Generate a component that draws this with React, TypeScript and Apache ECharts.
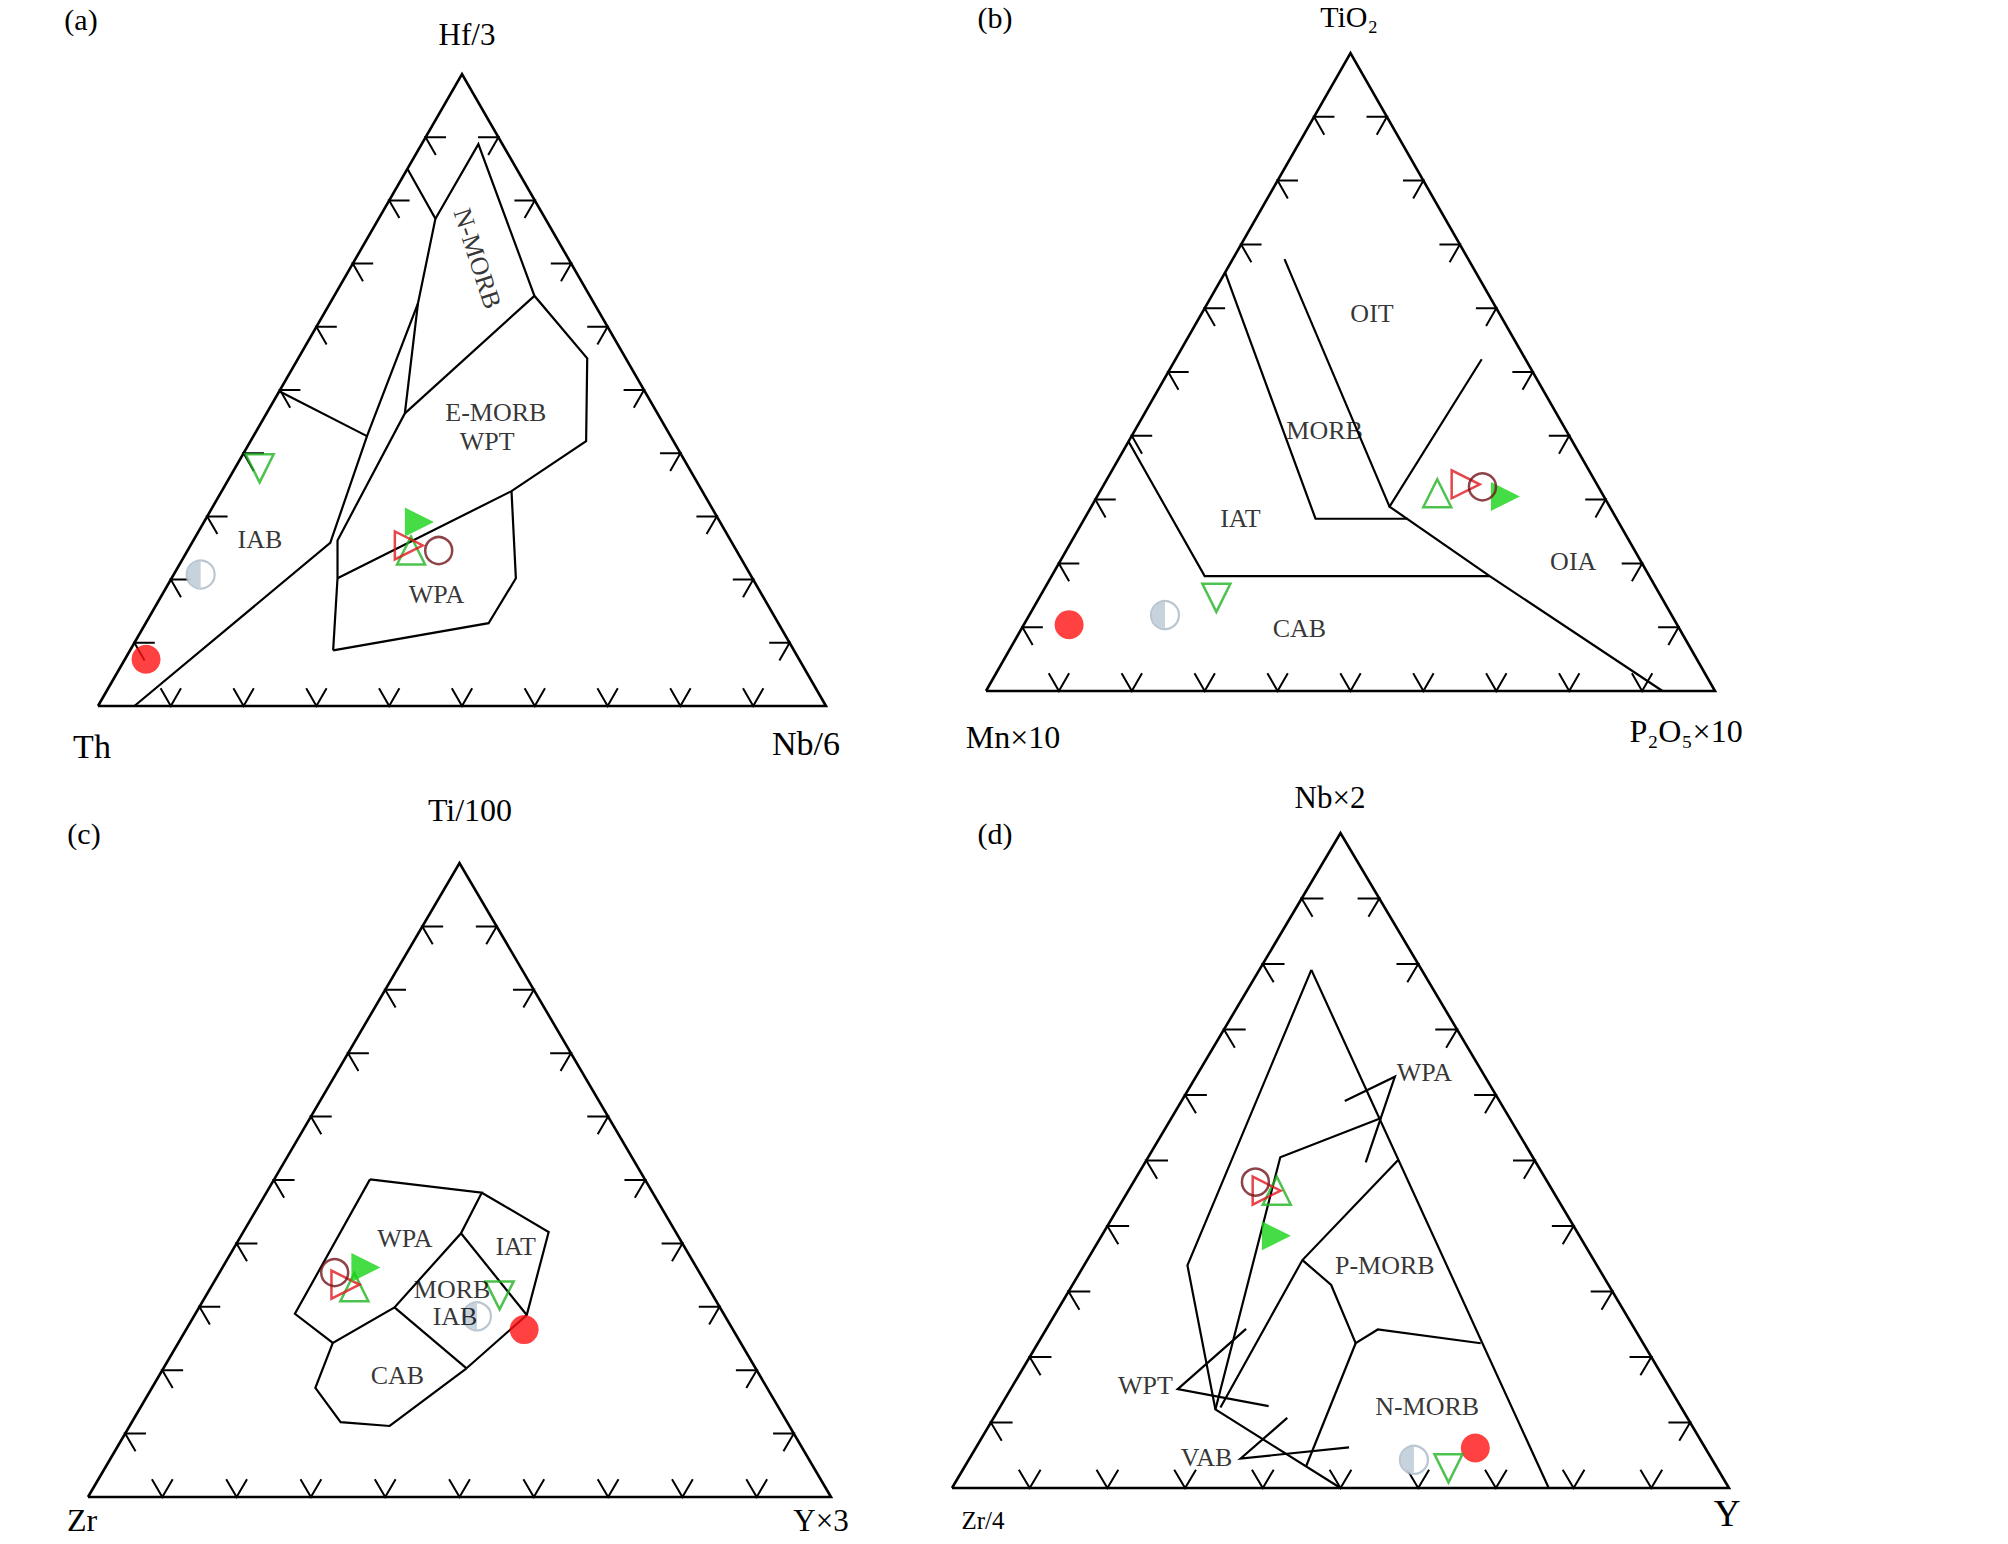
import React, { useEffect, useRef } from 'react';
import * as echarts from 'echarts';

const FONT = '"Liberation Serif", "Times New Roman", Times, serif';

// Tick fractions along every side of the ternary diagrams
const tickValues = [0.1, 0.2, 0.3, 0.4, 0.5, 0.6, 0.7, 0.8, 0.9];

// Compositions are [left apex, top apex, right apex] in %
const triangleCorners = [[100, 0, 0], [0, 0, 100], [0, 100, 0], [100, 0, 0]];

// ---------- (a) Th - Hf/3 - Nb/6 ----------
const aAxisNames = ['Th', 'Hf/3', 'Nb/6'];
const aBoundaries = [
  [[15.0, 85.0, 0], [15.1, 77.1, 7.8], [24.2, 63.7, 12.1], [41.7, 42.7, 15.6], [55.2, 25.8, 19.0], [95, 0, 5]],
  [[24.2, 63.7, 12.1], [34.7, 46.3, 19.0], [54.0, 26.2, 19.8], [57.0, 20.2, 22.8], [63.3, 8.8, 27.9]],
  [[50.2, 49.8, 0], [41.7, 42.7, 15.6]],
  [[15.1, 77.1, 7.8], [3.3, 88.9, 7.8], [7.6, 64.9, 27.5], [5.3, 55.0, 39.7], [11.9, 41.9, 46.1], [26.2, 34.0, 39.8], [57.0, 20.2, 22.8]],
  [[7.6, 64.9, 27.5], [34.7, 46.3, 19.0]],
  [[26.2, 34.0, 39.8], [32.5, 20.2, 47.3], [39.8, 13.1, 47.1], [63.3, 8.8, 27.9]],
];
const aFieldNames = ['N-MORB', 'E-MORB', 'WPT', 'IAB', 'WPA'];
const aFieldPositions = [[12.5, 70.8, 16.7], [22.2, 46.5, 31.4], [25.6, 41.9, 32.5], [64.6, 26.3, 9.1], [44.7, 17.6, 37.7]];
const aSamples: Record<string, number[]> = {
  halfCircle: [75.6, 20.8, 3.7],
  redCircle: [89.7, 7.4, 2.9],
  greenInvTri: [58.9, 37.6, 3.4],
  greenUpTri: [44.7, 24.6, 30.7],
  redRightTri: [44.6, 25.4, 30.0],
  greenFillTri: [41.3, 29.1, 29.6],
  maroonCircle: [40.8, 24.6, 34.5],
};

// ---------- (b) MnO×10 - TiO2 - P2O5×10 ----------
const bAxisNames = ['Mn×10', 'TiO₂', 'P₂O₅×10'];
const bBoundaries = [
  [[34.4, 65.6, 0], [41.3, 27.0, 31.7], [28.6, 27.0, 44.4]],
  [[25.2, 67.7, 7.1], [30.2, 28.9, 40.9]],
  [[15.9, 52.0, 42.0], [30.2, 28.9, 40.9], [22.0, 18.0, 60.1], [7.2, 0, 92.8]],
  [[60.9, 39.1, 0], [61.0, 18.0, 21.0], [22.0, 18.0, 60.1]],
];
const bFieldNames = ['OIT', 'MORB', 'IAT', 'OIA', 'CAB'];
const bFieldPositions = [[17.5, 59.1, 23.4], [33.2, 40.9, 26.0], [51.7, 27.0, 21.4], [9.3, 20.3, 70.4], [52.0, 9.8, 38.1]];
const bSamples: Record<string, number[]> = {
  halfCircle: [69.5, 11.9, 18.6],
  redCircle: [83.4, 10.4, 6.2],
  greenInvTri: [61.1, 14.6, 24.3],
  greenUpTri: [22.6, 31.0, 46.4],
  redRightTri: [18.0, 32.4, 49.6],
  greenFillTri: [13.8, 30.5, 56.0],
  maroonCircle: [15.9, 32.0, 52.1],
};

// ---------- (c) Zr - Ti/100 - Y×3 ----------
const cAxisNames = ['Zr', 'Ti/100', 'Y×3'];
const cBoundaries = [
  [[37.0, 50.1, 12.9], [23.1, 48.0, 29.0], [29.0, 41.6, 29.4], [43.8, 29.9, 26.3], [54.9, 24.3, 20.8], [57.7, 28.9, 13.4], [37.0, 50.1, 12.9]],
  [[23.1, 48.0, 29.0], [17.1, 41.8, 41.1], [26.6, 28.7, 44.7], [38.9, 20.3, 40.8]],
  [[29.0, 41.6, 29.4], [26.6, 28.7, 44.7]],
  [[43.8, 29.9, 26.3], [38.9, 20.3, 40.8]],
  [[54.9, 24.3, 20.8], [60.8, 17.2, 22.0], [60.1, 11.8, 28.1], [53.8, 11.2, 35.0], [38.9, 20.3, 40.8]],
];
const cFieldNames = ['WPA', 'IAT', 'MORB', 'IAB', 'CAB'];
const cFieldPositions = [[37.0, 40.7, 22.3], [22.7, 39.5, 37.8], [34.6, 32.8, 32.6], [36.4, 28.4, 35.2], [48.8, 19.1, 32.1]];
const cSamples: Record<string, number[]> = {
  halfCircle: [33.4, 28.5, 38.1],
  redCircle: [28.1, 26.4, 45.5],
  greenInvTri: [28.7, 31.8, 39.5],
  greenUpTri: [47.6, 33.1, 19.3],
  redRightTri: [48.6, 33.5, 17.9],
  greenFillTri: [44.5, 36.2, 19.3],
  maroonCircle: [49.0, 35.4, 15.5],
};

// ---------- (d) Zr/4 - Nb×2 - Y ----------
const dAxisNames = ['Zr/4', 'Nb×2', 'Y'];
const dBoundaries = [
  [[14.2, 79.1, 6.7], [23.2, 0, 76.8]],
  [[14.2, 79.1, 6.7], [52.7, 34.0, 13.3], [60.2, 12.0, 27.9], [50, 0, 50]],
  [[60.2, 12.0, 27.9], [32.6, 50.5, 17.0], [16.5, 56.5, 27.0]],
  [[19.9, 59.1, 21.0], [11.6, 62.8, 25.6], [21.9, 49.7, 28.4]],
  [[17.5, 50.1, 32.4], [37.5, 34.8, 27.7], [59.3, 12.3, 28.4]],
  [[37.5, 34.8, 27.7], [35.7, 31.0, 33.3], [37.1, 22.1, 40.9], [33.1, 24.2, 42.7], [20.9, 22.1, 57.0]],
  [[37.1, 22.1, 40.9], [52.5, 3.4, 43.9]],
  [[49.9, 24.3, 25.7], [63.4, 15.1, 21.5], [53.1, 12.5, 34.5]],
  [[51.5, 10.7, 37.8], [60.6, 4.5, 34.9], [45.9, 6.2, 48.0]],
];
const dFieldNames = ['WPA', 'P-MORB', 'N-MORB', 'WPT', 'VAB'];
const dFieldPositions = [[7.8, 63.4, 29.1], [27.3, 34.0, 38.7], [32.6, 12.5, 54.9], [67.4, 15.6, 17.1], [64.9, 4.7, 30.4]];
const dSamples: Record<string, number[]> = {
  halfCircle: [40.4, 4.3, 57.3],
  redCircle: [29.5, 6.1, 64.3],
  greenInvTri: [34.6, 3.0, 62.4],
  greenUpTri: [35.6, 45.4, 19.1],
  redRightTri: [36.8, 45.4, 17.8],
  greenFillTri: [39.2, 38.5, 22.5],
  maroonCircle: [37.5, 46.7, 15.7],
};

const panelLetters = ['(a)', '(b)', '(c)', '(d)'];

// ---------- layout / style (not data) ----------
const panelRects = [
  { left: 98, right: 826, top: 74, bottom: 706 },
  { left: 986, right: 1715, top: 53, bottom: 691 },
  { left: 88, right: 831, top: 863, bottom: 1497 },
  { left: 952, right: 1729, top: 833, bottom: 1488 },
];
// positions of captions: [letter, left corner, top corner, right corner] -> [x, y, fontSize]
const captionPlaces = [
  [[81, 19, 30], [92, 746, 34], [467, 34, 31], [806, 743, 34]],
  [[995, 17, 30], [1013, 737, 32], [1349, 16, 30], [1686, 731, 32]],
  [[84, 833, 30], [82, 1520, 32], [470, 810, 32], [821, 1520, 31]],
  [[995, 833, 30], [983, 1520, 25], [1330, 797, 31], [1727, 1513, 37]],
];
const fieldLabelRotate: Record<string, number> = { '0-0': -72 };
const TICK_LEN = 0.028;

const hollow = 'rgba(255,255,255,0)';
const markerStyles: Record<string, any> = {
  redCircle: { symbol: 'circle', symbolSize: 29, itemStyle: { color: '#ff1212' } },
  maroonCircle: { symbol: 'circle', symbolSize: 27, itemStyle: { color: hollow, borderColor: '#72141a', borderWidth: 2.5 } },
  greenInvTri: { symbol: 'triangle', symbolSize: 28, symbolRotate: 180, itemStyle: { color: hollow, borderColor: '#22b322', borderWidth: 2.5 } },
  greenUpTri: { symbol: 'triangle', symbolSize: 28, itemStyle: { color: hollow, borderColor: '#22b322', borderWidth: 2.5 } },
  redRightTri: { symbol: 'triangle', symbolSize: 28, symbolRotate: -90, itemStyle: { color: hollow, borderColor: '#e0181e', borderWidth: 2.5 } },
  greenFillTri: { symbol: 'triangle', symbolSize: 29, symbolRotate: -90, itemStyle: { color: '#18d318' } },
};
const markerOrder = ['halfCircle', 'redCircle', 'greenInvTri', 'greenUpTri', 'redRightTri', 'greenFillTri', 'maroonCircle'];

const toXY = (c: number[]) => [c[2] / 100 + c[1] / 200, c[1] / 100];
const tr = (t: number, r: number) => [r + t / 2, t];

function tickLines() {
  const L = TICK_LEN;
  const out: number[][][] = [];
  tickValues.forEach((f) => {
    out.push([tr(L, f - L), tr(0, f), tr(L, f)]);
    out.push([tr(f, L), tr(f, 0), tr(f - L, L)]);
    out.push([tr(f, 1 - f - L), tr(f, 1 - f), tr(f - L, 1 - f)]);
  });
  return out;
}

const panels = [
  { names: aAxisNames, boundaries: aBoundaries, fields: aFieldNames, fieldPos: aFieldPositions, samples: aSamples },
  { names: bAxisNames, boundaries: bBoundaries, fields: bFieldNames, fieldPos: bFieldPositions, samples: bSamples },
  { names: cAxisNames, boundaries: cBoundaries, fields: cFieldNames, fieldPos: cFieldPositions, samples: cSamples },
  { names: dAxisNames, boundaries: dBoundaries, fields: dFieldNames, fieldPos: dFieldPositions, samples: dSamples },
];

function buildOption() {
  const grid: any[] = [];
  const xAxis: any[] = [];
  const yAxis: any[] = [];
  const series: any[] = [];
  const graphic: any[] = [];
  const ticks = tickLines();

  panels.forEach((p, i) => {
    const r = panelRects[i];
    grid.push({ left: r.left, top: r.top, width: r.right - r.left, height: r.bottom - r.top, containLabel: false, outerBoundsMode: 'none', show: false });
    xAxis.push({ gridIndex: i, type: 'value', min: 0, max: 1, show: false });
    yAxis.push({ gridIndex: i, type: 'value', min: 0, max: 1, show: false });
    const common = { xAxisIndex: i, yAxisIndex: i, silent: true, clip: false };

    series.push({
      ...common, type: 'lines', coordinateSystem: 'cartesian2d', polyline: true, z: 2,
      lineStyle: { color: '#000', width: 2.6, opacity: 1 },
      data: [{ coords: triangleCorners.map(toXY) }],
    });
    series.push({
      ...common, type: 'lines', coordinateSystem: 'cartesian2d', polyline: true, z: 2,
      lineStyle: { color: '#000', width: 2, opacity: 1 },
      data: ticks.map((c) => ({ coords: c })),
    });
    series.push({
      ...common, type: 'lines', coordinateSystem: 'cartesian2d', polyline: true, z: 2,
      lineStyle: { color: '#000', width: 2.2, opacity: 1 },
      data: p.boundaries.map((b) => ({ coords: b.map(toXY) })),
    });

    markerOrder.forEach((key) => {
      const pt = p.samples[key];
      if (!pt) return;
      const xy = toXY(pt);
      if (key === 'halfCircle') {
        series.push({
          ...common, type: 'scatter', z: 4, symbol: 'circle', symbolSize: 28,
          itemStyle: { color: '#ffffff', borderColor: '#a9b8c4', borderWidth: 2.2 },
          data: [xy],
        });
        series.push({
          ...common, type: 'scatter', z: 4, symbol: 'path://M50,0 A50,50 0 0 0 50,100 Z',
          symbolSize: [13, 26], symbolOffset: [-6.5, 0],
          itemStyle: { color: '#b8c7d3' },
          data: [xy],
        });
      } else {
        series.push({ ...common, type: 'scatter', z: 4, ...markerStyles[key], data: [xy] });
      }
    });

    series.push({
      ...common, type: 'scatter', z: 5, symbolSize: 1,
      itemStyle: { color: 'rgba(0,0,0,0)' },
      label: { show: true, position: 'inside', formatter: '{b}', color: '#000', fontSize: 26, fontFamily: FONT },
      data: p.fields.map((name, k) => {
        const rot = fieldLabelRotate[`${i}-${k}`];
        return { name, value: toXY(p.fieldPos[k]), label: rot ? { rotate: rot } : undefined };
      }),
    });

    const texts = [panelLetters[i], p.names[0], p.names[1], p.names[2]];
    texts.forEach((t, k) => {
      const [x, y, size] = captionPlaces[i][k];
      graphic.push({
        type: 'text', x, y, silent: true,
        style: {
          text: t, fontSize: size, fontFamily: FONT, fill: '#000',
          align: 'center', verticalAlign: 'middle', textAlign: 'center', textVerticalAlign: 'middle',
        },
      });
    });
  });

  return { animation: false, backgroundColor: '#ffffff', grid, xAxis, yAxis, series, graphic };
}

export default function App() {
  const ref = useRef<HTMLDivElement>(null);
  useEffect(() => {
    if (!ref.current) return;
    const chart = echarts.init(ref.current, undefined, { renderer: 'svg' });
    chart.setOption(buildOption() as any);
    return () => chart.dispose();
  }, []);
  return <div ref={ref} style={{ position: 'absolute', left: 0, top: 0, width: 2008, height: 1544, background: '#fff' }} />;
}
